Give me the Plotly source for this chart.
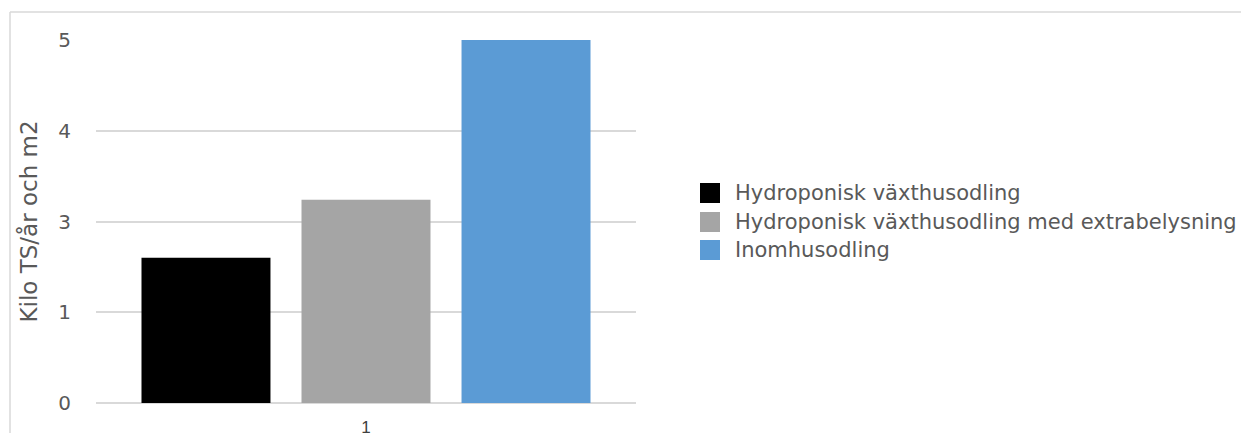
import plotly.graph_objects as go

# Category and series values (plotted on the evenly spaced gridline scale)
category = ["1"]
series_names = [
    "Hydroponisk växthusodling",
    "Hydroponisk växthusodling med extrabelysning",
    "Inomhusodling",
]
series_values = [1.6, 2.24, 4.0]
series_colors = ["#000000", "#a5a5a5", "#5b9bd5"]

# Y-axis gridline positions and the labels printed on them
y_tick_positions = [0, 1, 2, 3, 4]
y_tick_labels = ["0", "1", "3", "4", "5"]

FONT = "DejaVu Sans"
GRID = "#d9d9d9"
TEXT = "#595959"

W, H = 1241, 433
L, R, T, B = 96, 605, 40, 30
PW, PH = W - L - R, H - T - B


def px(x):
    return (x - L) / PW


def py(y):
    return (H - B - y) / PH


fig = go.Figure()
for name, val, col in zip(series_names, series_values, series_colors):
    fig.add_trace(go.Bar(x=category, y=[val], name=name, showlegend=False,
                         marker=dict(color=col, line=dict(width=0))))

fig.update_layout(
    width=W, height=H,
    margin=dict(l=L, r=R, t=T, b=B, autoexpand=False),
    paper_bgcolor="white", plot_bgcolor="white",
    barmode="group", bargap=0.111, bargroupgap=0.194,
    font=dict(family=FONT, size=20, color=TEXT),
    xaxis=dict(type="category", showgrid=False, showline=False,
               ticks="", ticklabelstandoff=12,
               tickfont=dict(family="Liberation Sans", size=17, color="#404040")),
    yaxis=dict(range=[0, 4], tickvals=y_tick_positions, ticktext=y_tick_labels,
               showgrid=True, gridcolor=GRID, gridwidth=1.5,
               zeroline=True, zerolinecolor=GRID, zerolinewidth=1.5,
               showline=False, ticks="", ticklabelstandoff=24,
               tickfont=dict(family=FONT, size=20, color=TEXT),
               title=dict(text="Kilo TS/år och m2", standoff=14,
                          font=dict(family=FONT, size=23, color=TEXT))),
)

# Legend: colour swatch plus series name per row
row_y = [193, 222, 250]
for name, col, yc in zip(series_names, series_colors, row_y):
    fig.add_shape(type="rect", xref="paper", yref="paper",
                  x0=px(700), x1=px(720), y0=py(yc + 10), y1=py(yc - 10),
                  fillcolor=col, line=dict(width=0))
    fig.add_annotation(xref="paper", yref="paper", x=px(733), y=py(yc),
                       xanchor="left", yanchor="middle", showarrow=False,
                       text=name, font=dict(family=FONT, size=21, color=TEXT))

# Thin outer frame of the chart area (top and left edges)
fig.add_shape(type="line", xref="paper", yref="paper",
              x0=px(10), x1=px(W + 5), y0=py(12), y1=py(12),
              line=dict(color=GRID, width=1.5))
fig.add_shape(type="line", xref="paper", yref="paper",
              x0=px(10), x1=px(10), y0=py(12), y1=py(H + 5),
              line=dict(color=GRID, width=1.5))

fig.write_html("out.html")
